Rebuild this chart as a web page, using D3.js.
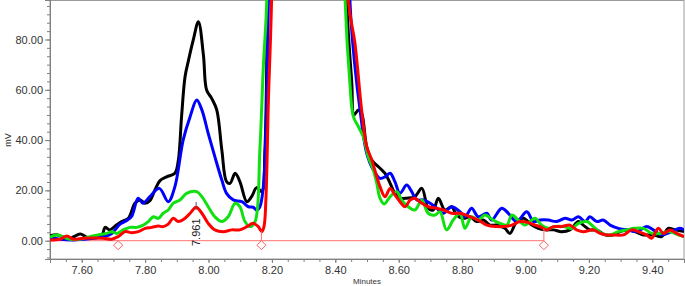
<!DOCTYPE html>
<html>
<head>
<meta charset="utf-8">
<script src="https://cdn.jsdelivr.net/npm/d3@7"></script>
<style>
  body { margin: 0; background: #fff; }
  svg { display: block; font-family: "Liberation Sans", Arial, sans-serif; }
</style>
</head>
<body>
<div id="chart"></div>
<script>
// retention time (min) and signal (mV)
const blackTime = [7.500,7.521,7.542,7.558,7.595,7.616,7.642,7.663,7.674,7.689,7.705,7.726,7.747,7.768,7.784,7.800,7.815,7.831,7.847,7.868,7.894,7.905,7.915,7.926,7.936,7.952,7.968,7.984,7.994,8.010,8.026,8.042,8.057,8.068,8.084,8.099,8.121,8.136,8.152,8.168,8.178,8.186,8.200,8.310,8.420,8.436,8.452,8.459,8.473,8.483,8.499,8.515,8.541,8.557,8.573,8.588,8.604,8.625,8.651,8.673,8.693,8.709,8.725,8.746,8.767,8.783,8.804,8.825,8.846,8.867,8.888,8.909,8.935,8.951,8.972,8.993,9.020,9.040,9.062,9.088,9.114,9.140,9.167,9.182,9.203,9.225,9.251,9.277,9.298,9.319,9.345,9.372,9.403,9.430,9.450,9.472,9.500];
const blackMv   = [1.9,2.4,1.4,0.6,2.7,1.4,1.4,1.9,5.3,4.3,5.8,7.6,8.9,14.9,16.2,14.9,15.9,20.2,23.9,25.4,26.8,32.1,49.3,65.2,71.2,79.8,87.1,73.8,59.9,56.6,52.0,36.1,23.5,22.8,26.8,23.5,15.5,17.5,21.1,19.5,36.1,95.7,250,2500,250,95.7,62.7,50.0,52.0,50.7,37.4,32.1,28.8,26.8,22.8,18.8,16.9,16.9,17.5,20.8,12.9,12.2,16.9,12.2,13.5,10.2,8.9,9.5,7.6,8.2,6.2,6.2,4.9,2.9,7.6,8.9,6.2,4.9,4.3,4.3,3.6,4.3,7.6,6.2,4.3,4.3,2.3,2.3,3.6,4.3,3.6,2.3,2.3,1.6,4.9,4.3,3.6];

const blueTime = [7.500,7.532,7.574,7.605,7.642,7.668,7.695,7.721,7.742,7.758,7.778,7.793,7.815,7.845,7.873,7.894,7.920,7.942,7.963,7.979,7.999,8.020,8.042,8.057,8.078,8.105,8.126,8.141,8.152,8.162,8.173,8.181,8.189,8.205,8.310,8.430,8.446,8.462,8.478,8.499,8.520,8.541,8.557,8.573,8.588,8.604,8.625,8.641,8.657,8.678,8.699,8.720,8.741,8.767,8.793,8.809,8.830,8.851,8.878,8.893,8.925,8.946,8.972,9.004,9.025,9.046,9.072,9.098,9.125,9.146,9.167,9.188,9.203,9.225,9.245,9.267,9.293,9.319,9.351,9.382,9.403,9.430,9.461,9.487,9.500];
const blueMv   = [1.4,0.6,0.3,0.6,1.0,1.6,2.9,6.6,8.0,9.8,16.9,14.9,17.5,20.8,15.5,21.5,40.0,49.3,55.9,52.0,42.7,33.4,24.1,18.8,16.2,15.5,13.5,13.3,12.2,13.5,21.5,42.8,95.7,250,2500,250,95.7,69.2,52.0,34.8,28.1,24.8,25.4,26.8,23.5,18.8,22.1,19.5,16.2,16.2,14.9,12.9,10.9,13.5,11.5,9.5,12.9,9.5,10.9,8.2,12.9,10.9,7.6,11.5,7.6,8.2,8.2,7.6,8.9,8.2,9.5,7.6,9.5,7.6,8.2,6.2,4.9,4.3,3.6,5.6,4.3,2.3,3.6,4.9,4.3];

const greenTime = [7.500,7.521,7.542,7.563,7.595,7.626,7.652,7.679,7.695,7.710,7.731,7.752,7.774,7.794,7.810,7.826,7.842,7.857,7.873,7.889,7.910,7.931,7.963,7.979,7.999,8.020,8.042,8.062,8.084,8.099,8.115,8.131,8.147,8.162,8.173,8.184,8.200,8.310,8.415,8.431,8.446,8.457,8.473,8.488,8.504,8.520,8.531,8.541,8.554,8.573,8.594,8.609,8.630,8.651,8.673,8.693,8.715,8.730,8.751,8.772,8.793,8.809,8.830,8.851,8.872,8.898,8.920,8.941,8.957,8.977,8.998,9.014,9.030,9.051,9.072,9.093,9.120,9.146,9.167,9.193,9.214,9.240,9.267,9.293,9.319,9.345,9.372,9.398,9.424,9.456,9.482,9.500];
const greenMv   = [1.4,2.3,1.4,0.6,0.6,1.6,2.3,2.9,3.6,2.9,4.3,5.3,5.3,6.2,7.6,9.5,8.9,10.9,12.2,14.9,16.2,18.8,19.5,17.5,13.5,9.5,7.6,9.5,14.9,13.5,7.6,5.6,7.6,36.1,69.2,95.7,250,2500,250,95.7,62.6,49.3,45.3,41.4,33.4,28.1,22.8,16.9,14.6,17.5,19.5,16.2,13.5,12.2,16.2,10.9,10.2,11.5,4.3,8.2,10.9,4.9,9.5,8.2,10.2,8.2,6.9,6.2,10.2,8.2,6.2,7.6,8.9,6.2,4.9,5.6,5.6,4.9,6.9,7.6,5.6,2.9,2.3,3.6,4.3,4.9,4.9,2.9,2.9,3.6,2.3,1.6];

const redTime = [7.500,7.532,7.553,7.574,7.605,7.637,7.668,7.695,7.715,7.737,7.758,7.779,7.800,7.821,7.842,7.857,7.873,7.889,7.905,7.926,7.942,7.961,7.979,7.999,8.020,8.047,8.073,8.099,8.121,8.141,8.157,8.168,8.175,8.181,8.189,8.199,8.215,8.310,8.425,8.441,8.462,8.483,8.499,8.515,8.541,8.557,8.573,8.588,8.604,8.620,8.636,8.651,8.673,8.693,8.720,8.741,8.767,8.793,8.825,8.851,8.878,8.909,8.930,8.957,8.983,9.009,9.030,9.046,9.067,9.088,9.114,9.140,9.161,9.182,9.214,9.235,9.256,9.277,9.309,9.335,9.356,9.382,9.398,9.419,9.435,9.456,9.477,9.500];
const redMv   = [0.3,0.6,1.9,0.6,1.0,1.1,1.0,0.6,1.6,3.6,3.2,3.6,4.9,5.3,5.8,5.6,6.6,8.9,7.6,8.9,10.9,13.3,10.9,6.9,4.3,3.6,4.3,4.3,5.6,6.9,5.6,3.6,5.6,16.2,55.9,95.7,250,2500,250,95.7,78.5,52.0,37.4,32.1,21.5,17.5,20.8,18.2,15.5,13.5,16.2,16.9,14.9,13.5,12.9,12.2,10.9,10.9,9.5,8.2,6.2,5.6,5.6,6.2,7.6,7.2,6.2,5.6,4.3,5.6,5.6,6.2,4.3,3.6,4.3,2.9,2.3,2.3,2.3,4.3,3.6,2.3,1.0,4.9,2.9,4.3,2.9,1.6];

const xMajor = [7.60,7.80,8.00,8.20,8.40,8.60,8.80,9.00,9.20,9.40];
const yMajor = [0,20,40,60,80];

// integration events: baseline start/end markers and labelled peak
const markerTime = [7.715, 8.167, 9.058];
const dropTime = [8.167, 9.058];
const baselineEnd = 9.058;
const peakTime = 7.961;
const peakLabel = "7.961";

const W = 685, H = 286;
const x = d3.scaleLinear().domain([7.5, 9.5]).range([50, 684]);
const y = d3.scaleLinear().domain([-7.28, 95.7]).range([259, 0]);

const svg = d3.select('#chart').append('svg').attr('width', W).attr('height', H);

svg.append('defs').append('clipPath').attr('id', 'plot')
  .append('rect').attr('x', 50).attr('y', 0).attr('width', 634).attr('height', 259);

// frame
svg.append('rect').attr('x', 50).attr('y', 0.5).attr('width', 634).attr('height', 258.5)
  .attr('fill', 'none').attr('stroke', '#9a9a9a');

// minor ticks
const xMinor = d3.range(0, 41).map(i => 7.5 + i * 0.05);
const yMinor = d3.range(-2, 29).map(i => i * 20 / 6);

const xAxisMinor = svg.append('g').attr('transform', 'translate(0,259)')
  .call(d3.axisBottom(x).tickValues(xMinor).tickSize(3).tickFormat(''));
const xAxis = svg.append('g').attr('transform', 'translate(0,259)')
  .call(d3.axisBottom(x).tickValues(xMajor).tickSize(4).tickPadding(3).tickFormat(d3.format('.2f')));
const yAxisMinor = svg.append('g').attr('transform', 'translate(50,0)')
  .call(d3.axisLeft(y).tickValues(yMinor).tickSize(3).tickFormat(''));
const yAxis = svg.append('g').attr('transform', 'translate(50,0)')
  .call(d3.axisLeft(y).tickValues(yMajor).tickSize(5).tickPadding(2).tickFormat(d3.format('.2f')));

[xAxisMinor, xAxis, yAxisMinor, yAxis].forEach(g => {
  g.select('.domain').attr('stroke', '#808080');
  g.selectAll('.tick line').attr('stroke', '#808080');
  g.selectAll('text').attr('fill', '#333').style('font-size', '11px')
    .style('font-family', '"Liberation Sans", Arial, sans-serif');
});

svg.append('text').attr('transform', 'translate(11,140) rotate(-90)')
  .attr('text-anchor', 'middle').attr('fill', '#333').style('font-size', '9px').text('mV');
svg.append('text').attr('x', 367).attr('y', 284)
  .attr('text-anchor', 'middle').attr('fill', '#333').style('font-size', '8px').text('Minutes');

const plot = svg.append('g').attr('clip-path', 'url(#plot)');

// baseline
plot.append('line').attr('x1', x(7.5)).attr('x2', x(baselineEnd))
  .attr('y1', y(0)).attr('y2', y(0)).attr('stroke', '#ff7070').attr('stroke-width', 1);

const line = d3.line().x(d => x(d[0])).y(d => y(d[1])).curve(d3.curveCatmullRom.alpha(0.5));
const series = [
  { t: blackTime, v: blackMv, c: '#000000' },
  { t: blueTime,  v: blueMv,  c: '#0000ff' },
  { t: greenTime, v: greenMv, c: '#10e010' },
  { t: redTime,   v: redMv,   c: '#ff0000' }
];
series.forEach(s => {
  plot.append('path').datum(d3.zip(s.t, s.v)).attr('d', line)
    .attr('fill', 'none').attr('stroke', s.c).attr('stroke-width', 3)
    .attr('stroke-linejoin', 'round');
});

// drop lines to the red trace
const redAt = d3.scaleLinear().domain(redTime).range(redMv);
dropTime.forEach(t => {
  plot.append('line').attr('x1', x(t)).attr('x2', x(t))
    .attr('y1', y(redAt(t))).attr('y2', y(0)).attr('stroke', '#ff7070');
});

// diamond markers
markerTime.forEach(t => {
  const cx = x(t), cy = y(0) + 4.5;
  plot.append('path')
    .attr('d', `M${cx},${cy - 4.5}L${cx + 4.5},${cy}L${cx},${cy + 4.5}L${cx - 4.5},${cy}Z`)
    .attr('fill', '#fff').attr('stroke', '#ff5c5c').attr('stroke-width', 1);
});

// peak label
const px = x(peakTime);
svg.append('line').attr('x1', px).attr('x2', px).attr('y1', 202).attr('y2', 210)
  .attr('stroke', '#555');
svg.append('text').attr('transform', `translate(${px + 4},246) rotate(-90)`)
  .attr('fill', '#222').style('font-size', '11px').text(peakLabel);
</script>
</body>
</html>
